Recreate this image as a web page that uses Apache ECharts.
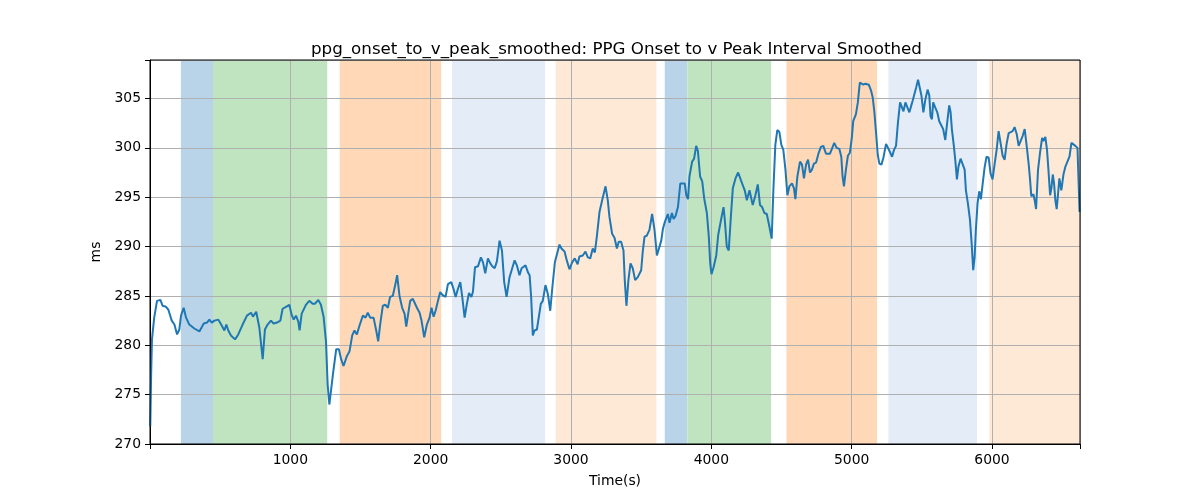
<!DOCTYPE html>
<html>
<head>
<meta charset="utf-8">
<script src="https://cdn.jsdelivr.net/npm/echarts@6/dist/echarts.min.js"></script>
<style>html,body{margin:0;padding:0;background:#fff}#c{width:1200px;height:500px}</style>
</head>
<body>
<div id="c"></div>
<script>
const timeS = [2,8,14,30,50,74,90,114,131,155,174,193,209,221,240,257,280,316,352,383,406,423,440,459,487,511,530,544,558,577,606,629,660,691,720,734,757,779,803,819,838,862,881,905,929,945,969,993,1009,1024,1040,1057,1066,1081,1095,1111,1135,1159,1175,1199,1218,1237,1254,1266,1278,1303,1327,1346,1362,1379,1403,1422,1441,1457,1474,1493,1517,1536,1552,1569,1593,1612,1626,1640,1659,1678,1695,1711,1730,1749,1761,1778,1797,1814,1826,1840,1854,1873,1885,1902,1921,1935,1954,1973,1992,2006,2021,2035,2052,2068,2083,2092,2106,2123,2147,2163,2178,2194,2211,2225,2242,2258,2273,2290,2301,2316,2325,2337,2358,2373,2389,2408,2425,2439,2456,2472,2491,2508,2524,2541,2562,2581,2598,2614,2633,2648,2662,2676,2693,2705,2716,2728,2740,2757,2771,2785,2799,2818,2835,2852,2866,2885,2899,2918,2932,2954,2970,2989,3008,3027,3047,3060,3084,3103,3120,3137,3155,3170,3184,3203,3222,3246,3262,3274,3293,3310,3327,3340,3357,3374,3383,3395,3409,3424,3440,3457,3476,3500,3512,3524,3540,3559,3578,3595,3612,3626,3643,3655,3669,3679,3690,3702,3719,3731,3745,3762,3779,3793,3810,3822,3834,3844,3863,3877,3892,3904,3920,3935,3949,3968,3982,3992,4001,4016,4035,4049,4058,4073,4087,4096,4110,4124,4139,4153,4172,4191,4205,4219,4238,4253,4272,4283,4295,4314,4331,4347,4362,4378,4395,4414,4430,4442,4456,4470,4485,4499,4513,4528,4542,4556,4575,4589,4599,4613,4632,4646,4660,4675,4689,4703,4717,4731,4746,4765,4781,4798,4817,4831,4845,4859,4876,4893,4912,4926,4935,4945,4959,4973,4987,5001,5011,5030,5044,5058,5072,5083,5098,5122,5138,5150,5162,5174,5186,5197,5212,5226,5245,5259,5273,5288,5302,5316,5330,5345,5354,5369,5383,5397,5411,5423,5435,5446,5459,5473,5485,5497,5511,5525,5541,5553,5562,5572,5581,5595,5610,5624,5638,5652,5667,5681,5695,5705,5714,5728,5738,5750,5761,5776,5790,5805,5814,5828,5843,5855,5866,5876,5885,5897,5909,5921,5933,5947,5961,5976,5990,6004,6019,6033,6047,6062,6076,6090,6104,6119,6133,6147,6161,6176,6190,6204,6218,6233,6247,6261,6271,6280,6295,6304,6314,6328,6342,6357,6366,6380,6392,6402,6414,6423,6433,6442,6452,6461,6471,6480,6494,6509,6523,6537,6552,6566,6580,6594,6609,6624];
const intervalMs = [271.8,277.0,280.6,282.8,284.5,284.6,284.0,283.9,283.6,282.5,282.1,281.1,281.6,283.0,283.8,282.8,282.1,281.7,281.4,282.2,282.3,282.6,282.3,282.5,282.6,282.0,281.5,282.1,281.5,281.0,280.6,281.1,282.1,283.0,283.3,282.9,283.4,281.8,278.6,281.6,282.1,282.5,282.2,282.3,282.5,283.7,283.9,284.1,283.1,282.6,283.0,282.4,281.5,283.2,283.0,284.1,284.5,284.2,284.2,284.6,284.1,282.9,280.4,276.0,274.0,277.0,279.6,279.6,278.6,277.9,278.9,279.4,281.0,281.5,281.1,282.0,283.0,282.8,283.3,282.8,282.8,281.5,280.4,282.1,284.0,284.1,283.8,284.9,285.0,286.2,287.1,285.0,283.8,283.2,281.9,283.2,284.5,284.7,284.7,283.8,283.3,282.5,280.8,282.1,282.8,283.8,282.9,283.5,284.5,285.4,285.1,284.9,284.9,286.2,286.4,285.7,284.9,285.7,286.4,284.9,282.8,284.2,285.3,284.9,285.4,287.9,288.1,288.0,288.9,288.4,287.3,288.8,288.3,288.0,287.8,288.5,290.6,289.6,286.4,284.9,286.9,287.8,288.6,288.1,287.1,287.8,288.0,288.1,287.4,287.1,284.9,281.0,281.5,281.6,281.8,284.2,284.5,286.1,285.2,283.5,285.7,288.4,288.5,290.2,289.8,289.5,288.6,287.7,288.4,288.8,288.2,289.0,289.1,289.5,288.9,288.8,289.8,289.4,291.0,293.5,294.7,296.1,294.7,293.0,291.3,290.9,289.8,290.5,290.5,289.6,286.6,284.0,286.6,288.3,287.8,286.6,286.9,287.6,289.6,291.0,291.1,291.7,293.3,291.7,289.1,288.9,290.6,291.8,292.5,292.3,293.3,292.4,293.4,292.8,293.1,294.0,296.4,296.5,296.4,295.2,294.8,297.1,298.6,298.9,300.2,299.7,297.1,296.6,294.9,293.4,291.0,288.3,287.2,287.9,289.1,291.2,291.3,293.0,294.0,292.7,290.0,289.6,293.0,295.9,296.9,297.5,297.3,296.4,295.7,294.7,295.7,295.7,294.2,295.2,296.3,294.2,294.0,293.4,293.3,292.0,290.8,295.7,300.3,301.8,301.6,300.3,299.8,297.8,295.2,296.1,296.4,295.9,294.8,297.1,298.6,298.3,296.9,298.3,298.8,297.5,297.8,298.4,298.5,299.5,300.1,300.2,299.4,299.2,299.4,299.3,300.5,300.0,299.9,299.1,297.1,296.1,297.8,299.2,299.5,301.0,302.7,303.4,304.6,306.6,306.7,306.4,306.5,306.4,305.8,305.1,303.6,301.5,299.3,298.4,298.3,299.0,300.4,300.0,299.8,299.1,299.8,300.2,302.6,304.6,304.8,303.7,304.6,304.8,303.6,304.2,304.8,305.0,306.1,306.9,307.1,305.3,303.6,304.9,305.9,305.3,303.2,302.9,304.6,304.1,303.6,302.7,302.5,301.9,300.8,302.6,304.3,303.6,301.9,300.2,298.8,296.8,298.1,298.9,299.0,297.8,295.7,294.4,292.7,290.3,287.6,288.9,291.7,294.4,295.6,294.8,296.3,298.0,299.1,299.0,297.4,296.8,298.4,299.8,301.7,300.4,299.2,298.8,300.4,301.5,301.3,301.7,302.1,301.4,300.2,300.1,301.2,301.9,300.2,298.4,296.8,295.1,295.3,294.7,293.8,297.8,299.5,301.0,300.7,301.1,299.8,297.8,295.2,295.9,297.3,296.4,294.6,293.8,295.4,296.9,295.7,297.3,298.1,298.2,299.1,300.5,300.3,300.2,300.0,293.5];

const spanStart = [220, 449, 1352, 2152, 2891, 3668, 3829, 4535, 5262, 5981];
const spanEnd   = [449, 1263, 2075, 2816, 3609, 3828, 4426, 5181, 5893, 6627];
const spanKind  = ['A', 'B', 'C', 'D', 'E', 'A', 'B', 'C', 'D', 'E'];

const xTicks = [1000, 2000, 3000, 4000, 5000, 6000];
const yTicks = [270, 275, 280, 285, 290, 295, 300, 305];

const kindColor = { A: '#b9d4e9', B: '#c0e3c0', C: '#fed8b7', D: '#e4ecf7', E: '#fee9d7' };

const chart = echarts.init(document.getElementById('c'), null, { renderer: 'canvas' });
const FONT = 'DejaVu Sans';

const areas = spanStart.map((s, i) => [
  { xAxis: s, itemStyle: { color: kindColor[spanKind[i]], opacity: 1 } },
  { xAxis: spanEnd[i] }
]);

chart.setOption({
  animation: false,
  backgroundColor: '#fff',
  title: {
    text: 'ppg_onset_to_v_peak_smoothed: PPG Onset to v Peak Interval Smoothed',
    left: 306, top: 36, zlevel: 1,
    textStyle: { fontFamily: FONT, fontSize: 16.7, fontWeight: 'normal', color: '#000' }
  },
  grid: {
    left: 150, right: 120, top: 60, bottom: 56, z: 5, zlevel: 1,
    show: true, borderColor: '#000', borderWidth: 1, backgroundColor: 'transparent'
  },
  xAxis: {
    type: 'value', min: 0, max: 6627, interval: 1000, zlevel: 1, z: 1,
    name: 'Time(s)', nameLocation: 'middle', nameGap: 30,
    nameTextStyle: { fontFamily: FONT, fontSize: 13.9, color: '#000' },
    axisLine: { show: true, onZero: false, lineStyle: { color: '#000', width: 1 } },
    axisTick: { show: true, length: 5, lineStyle: { color: '#000' } },
    axisLabel: {
      fontFamily: FONT, fontSize: 13.9, color: '#000', margin: 9,
      formatter: v => xTicks.includes(v) ? String(v) : ''
    },
    splitLine: { show: true, lineStyle: { color: '#b0b0b0', width: 1 } }
  },
  yAxis: {
    type: 'value', min: 270, max: 308.9, interval: 5, zlevel: 1, z: 1,
    name: 'ms', nameLocation: 'middle', nameGap: 40,
    nameTextStyle: { fontFamily: FONT, fontSize: 13.9, color: '#000' },
    axisLine: { show: true, onZero: false, lineStyle: { color: '#000', width: 1 } },
    axisTick: { show: true, length: 5, lineStyle: { color: '#000' } },
    axisLabel: {
      fontFamily: FONT, fontSize: 13.9, color: '#000', margin: 9,
      formatter: v => yTicks.includes(v) ? String(v) : ''
    },
    splitLine: { show: true, lineStyle: { color: '#b0b0b0', width: 1 } }
  },
  series: [
    {
      type: 'line', zlevel: 0, z: 0, data: [], silent: true,
      markArea: { silent: true, data: areas }
    },
    {
      type: 'line', zlevel: 1, z: 3, showSymbol: false, smooth: false,
      data: timeS.map((t, i) => [t, intervalMs[i]]),
      lineStyle: { color: '#1f77b4', width: 2 },
      itemStyle: { color: '#1f77b4' }
    }
  ]
});
</script>
</body>
</html>
